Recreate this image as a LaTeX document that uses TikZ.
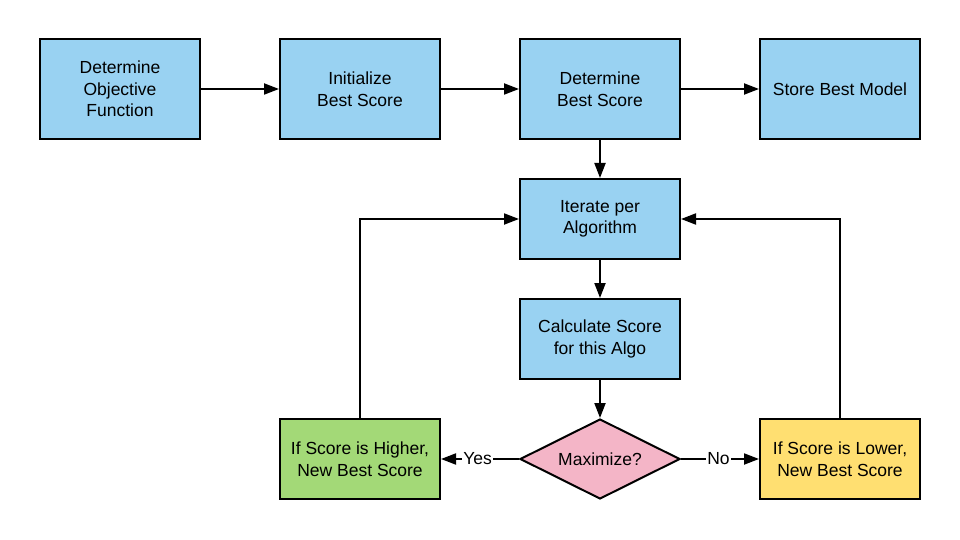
\documentclass[tikz,border=0pt]{standalone}
\usepackage{fontspec}
\setmainfont{Liberation Sans}
\usetikzlibrary{shapes.geometric,arrows.meta}
\definecolor{boxblue}{HTML}{99D2F2}
\definecolor{boxgreen}{HTML}{A3D977}
\definecolor{boxpink}{HTML}{F4B5C7}
\definecolor{boxyellow}{HTML}{FFDF71}
\tikzset{
  x=1pt, y=-1pt,
  txt/.style={font=\fontsize{17.5}{21.5}\selectfont},
  base/.style={draw=black, line width=2pt, align=center, txt, inner sep=0pt},
  procbox/.style={base, rectangle, minimum width=160pt, minimum height=100pt, fill=boxblue},
  smallbox/.style={base, rectangle, minimum width=160pt, minimum height=80pt, fill=boxblue},
  decide/.style={base, diamond, aspect=2, minimum width=160pt, minimum height=80pt, fill=boxpink},
  conn/.style={line width=2pt, -{Triangle[length=15pt,width=11pt]}},
  lbl/.style={fill=white, inner sep=1pt, txt}
}
\begin{document}
\begin{tikzpicture}
\useasboundingbox (0,0) rectangle (960,540);
\fill[white] (0,0) rectangle (960,540);
\node[procbox] (obj) at (120,89) {Determine\\Objective\\Function};
\node[procbox] (init) at (360,89) {Initialize\\Best Score};
\node[procbox] (det) at (600,89) {Determine\\Best Score};
\node[procbox] (store) at (840,89) {Store Best Model};
\node[smallbox] (iter) at (600,219) {Iterate per\\Algorithm};
\node[smallbox] (calc) at (600,339) {Calculate Score\\for this Algo};
\node[decide] (max) at (600,459) {Maximize?};
\node[smallbox, fill=boxgreen] (high) at (360,459) {If Score is Higher,\\New Best Score};
\node[smallbox, fill=boxyellow] (low) at (840,459) {If Score is Lower,\\New Best Score};
\draw[conn] (obj) -- (init);
\draw[conn] (init) -- (det);
\draw[conn] (det) -- (store);
\draw[conn] (det) -- (iter);
\draw[conn] (iter) -- (calc);
\draw[conn] (calc) -- (max);
\draw[conn] (max.west) -- node[lbl, pos=0.53] {Yes} (high);
\draw[conn] (max.east) -- node[lbl, pos=0.48] {No} (low);
\draw[conn] (high.north) |- (iter.west);
\draw[conn] (low.north) |- (iter.east);
\end{tikzpicture}
\end{document}
